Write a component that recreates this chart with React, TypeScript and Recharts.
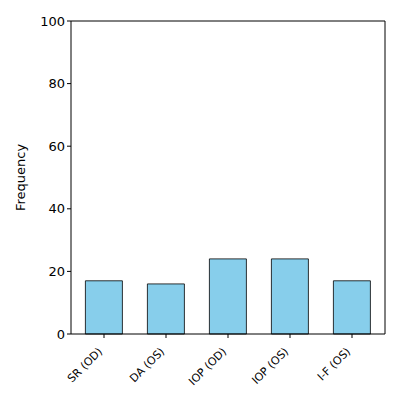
import { BarChart, Bar, XAxis, YAxis, Label, CartesianGrid } from 'recharts';

const categories = ['SR (OD)', 'DA (OS)', 'IOP (OD)', 'IOP (OS)', 'I-F (OS)'];
const frequencies = [17, 16, 24, 24, 17];
const yTicks = [0, 20, 40, 60, 80, 100];

const data = categories.map((name, i) => ({ name, value: frequencies[i] }));

const FONT = 'DejaVu Sans, sans-serif';

function RotatedTick({ x, y, payload }: any) {
  return (
    <g transform={`translate(${x - 3},${y + 10})`}>
      <text
        transform="rotate(-45)"
        textAnchor="end"
        dominantBaseline="middle"
        fontSize={11}
        fontFamily={FONT}
        fill="#000"
      >
        {payload.value}
      </text>
    </g>
  );
}

export default function App() {
  return (
    <div style={{ position: 'absolute', left: 0, top: 0, background: '#fff' }}>
      <BarChart
        width={400}
        height={400}
        data={data}
        margin={{ top: 21, right: 15, bottom: 0, left: 0 }}
        barCategoryGap="20%"
      >
        {/* top and right frame lines */}
        <CartesianGrid
          stroke="#000"
          strokeDasharray=""
          horizontalCoordinatesGenerator={({ offset }: any) => [offset.top]}
          verticalCoordinatesGenerator={({ offset }: any) => [offset.left + offset.width]}
        />
        <XAxis
          dataKey="name"
          interval={0}
          height={66}
          padding={{ left: 2, right: 2 }}
          stroke="#000"
          tickSize={4}
          tickLine={{ stroke: '#000' }}
          tick={<RotatedTick />}
        />
        <YAxis
          domain={[0, 100]}
          ticks={yTicks}
          width={71}
          stroke="#000"
          tickSize={4}
          tick={{ fill: '#000', fontSize: 13, fontFamily: FONT }}
        >
          <Label
            value="Frequency"
            angle={-90}
            position="insideLeft"
            offset={20}
            style={{ fill: '#000', fontSize: 13, fontFamily: FONT, textAnchor: 'middle' }}
          />
        </YAxis>
        <Bar dataKey="value" fill="#87CEEB" stroke="#000" strokeWidth={0.8} isAnimationActive={false} />
      </BarChart>
    </div>
  );
}
